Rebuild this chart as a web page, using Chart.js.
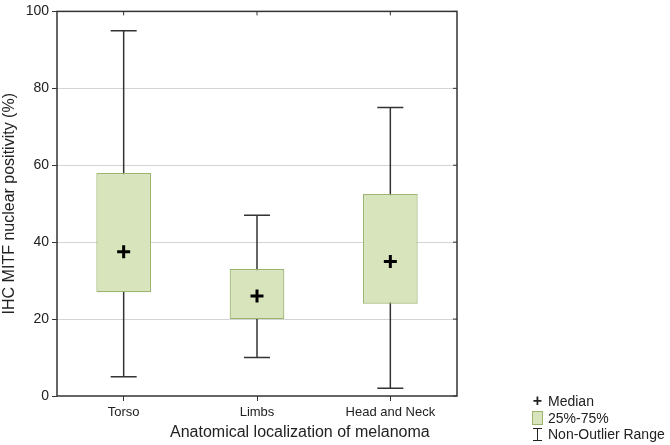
<!DOCTYPE html>
<html lang="en">
<head>
    <meta charset="UTF-8">
    <title>IHC MITF nuclear positivity</title>
    <script src="https://cdn.jsdelivr.net/npm/chart.js"></script>
    <style>
        body { margin: 0; background: #fff; font-family: "Liberation Sans", Arial, sans-serif; }
        .wrap { position: relative; width: 670px; height: 445px; }
        .xtitle { position: absolute; left: 170px; top: 423px; font-size: 16px; color: #222; white-space: nowrap; }
        .legend { position: absolute; left: 532px; top: 393px; font-size: 14px; color: #222; line-height: 16.5px; }
        .legend div { display: flex; align-items: center; white-space: nowrap; }
        .sym { width: 11px; margin-right: 5px; text-align: center; font-weight: bold; font-size: 16px; }
        .swatch { width: 9px; height: 12px; background: #d8e4bc; border: 1px solid #9bb56f; margin-right: 5px; }
        .whisk { width: 9px; height: 11px; margin: 0 6px 0 1px; border-top: 1.5px solid #222; border-bottom: 1.5px solid #222;
                 background: linear-gradient(to right, transparent 4px, #222 4px, #222 5.5px, transparent 5.5px); }
    </style>
</head>
<body>
<div class="wrap">
    <canvas id="boxChart" width="670" height="445"></canvas>
    <div class="xtitle">Anatomical localization of melanoma</div>
    <div class="legend">
        <div><span class="sym">+</span>Median</div>
        <div><span class="swatch"></span>25%-75%</div>
        <div><span class="whisk"></span>Non-Outlier Range</div>
    </div>
</div>
<script>
    // Data
    const categories = ['Torso', 'Limbs', 'Head and Neck'];
    const whiskerMin = [5, 10, 2];
    const q1 = [27, 20, 24];
    const medians = [37.5, 26, 35];
    const q3 = [58, 33, 52.5];
    const whiskerMax = [95, 47, 75];
    const yTicks = [0, 20, 40, 60, 80, 100];

    const frameColor = '#333';

    // whiskers, frame and inner tick marks
    const boxPlotExtras = {
        id: 'boxPlotExtras',
        beforeDatasetsDraw(chart) {
            const ctx = chart.ctx;
            const x = chart.scales.x, y = chart.scales.y;
            ctx.save();
            ctx.strokeStyle = frameColor;
            ctx.lineWidth = 1.5;
            categories.forEach((c, i) => {
                const px = x.getPixelForValue(i);
                const capHalf = 13;
                ctx.beginPath();
                ctx.moveTo(px, y.getPixelForValue(whiskerMax[i]));
                ctx.lineTo(px, y.getPixelForValue(whiskerMin[i]));
                [whiskerMax[i], whiskerMin[i]].forEach(v => {
                    const py = y.getPixelForValue(v);
                    ctx.moveTo(px - capHalf, py);
                    ctx.lineTo(px + capHalf, py);
                });
                ctx.stroke();
            });
            ctx.restore();
        },
        afterDraw(chart) {
            const ctx = chart.ctx;
            const a = chart.chartArea;
            const x = chart.scales.x, y = chart.scales.y;
            ctx.save();
            ctx.strokeStyle = frameColor;
            ctx.lineWidth = 1.5;
            ctx.strokeRect(a.left, a.top, a.right - a.left, a.bottom - a.top);
            ctx.lineWidth = 1;
            ctx.beginPath();
            categories.forEach((c, i) => {
                const px = x.getPixelForValue(i);
                ctx.moveTo(px, a.top);
                ctx.lineTo(px, a.top + 4);
            });
            yTicks.forEach(v => {
                const py = y.getPixelForValue(v);
                ctx.moveTo(a.right, py);
                ctx.lineTo(a.right - 4, py);
            });
            ctx.stroke();
            ctx.restore();
        }
    };

    Chart.defaults.font.family = '"Liberation Sans", Arial, sans-serif';
    Chart.defaults.color = '#222';

    new Chart(document.getElementById('boxChart'), {
        data: {
            labels: categories,
            datasets: [
                {
                    type: 'scatter',
                    label: 'Median',
                    data: medians.map((m, i) => ({ x: i, y: m })),
                    pointStyle: 'cross',
                    pointRadius: 6.5,
                    borderWidth: 3,
                    borderColor: '#000',
                    order: 0
                },
                {
                    type: 'bar',
                    label: '25%-75%',
                    data: q1.map((v, i) => [v, q3[i]]),
                    backgroundColor: '#d8e4bc',
                    borderColor: '#9bb56f',
                    borderWidth: 1.2,
                    borderSkipped: false,
                    categoryPercentage: 1,
                    barPercentage: 0.41,
                    order: 1
                }
            ]
        },
        options: {
            responsive: false,
            animation: false,
            events: [],
            layout: { padding: { top: 7, right: 213, left: 0, bottom: 0 } },
            plugins: { legend: { display: false }, tooltip: { enabled: false } },
            scales: {
                x: {
                    type: 'category',
                    offset: true,
                    grid: { display: true, offset: false, drawOnChartArea: false, tickLength: 5, tickColor: frameColor },
                    border: { display: false },
                    ticks: { font: { size: 13 }, color: '#222', padding: 4 },
                    afterFit(scale) { scale.height = 49; }
                },
                y: {
                    min: 0,
                    max: 100,
                    afterBuildTicks(scale) { scale.ticks = yTicks.map(v => ({ value: v })); },
                    grid: {
                        color: ctx => (ctx.tick && (ctx.tick.value === 0 || ctx.tick.value === 100)) ? 'rgba(0,0,0,0)' : '#d4d4d4',
                        tickColor: frameColor,
                        tickLength: 5
                    },
                    border: { display: false },
                    ticks: { font: { size: 14 }, color: '#222', padding: 3 },
                    title: { display: true, text: 'IHC MITF nuclear positivity (%)', font: { size: 16 }, color: '#222', padding: { top: 0, bottom: 2 } },
                    afterFit(scale) { scale.width = 57; }
                }
            }
        },
        plugins: [boxPlotExtras]
    });
</script>
</body>
</html>
